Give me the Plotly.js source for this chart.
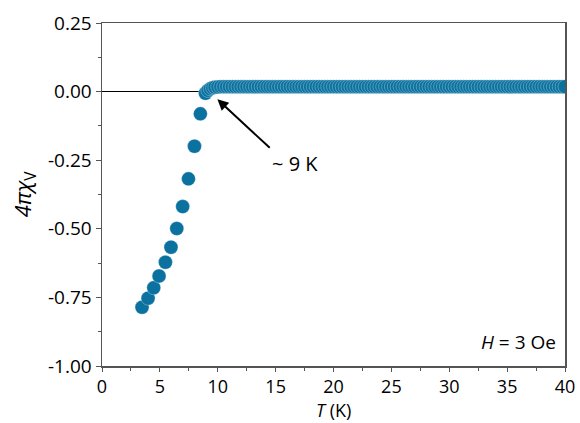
<!DOCTYPE html>
<html>
<head>
<meta charset="utf-8">
<script src="https://cdn.plot.ly/plotly-3.0.1.min.js"></script>
<style>html,body{margin:0;padding:0;background:#fff;}#chart{width:580px;height:423px;}</style>
</head>
<body>
<div id="chart"></div>
<script>
// Temperature (K)
const temperature = [
  3.46, 3.98, 4.47, 4.93, 5.48, 5.96, 6.46, 6.97, 7.47, 7.99, 8.50, 8.94,
  9.15, 9.35, 9.55, 9.75, 10.0, 10.25, 10.5, 10.75, 11.0, 11.25, 11.5, 11.75,
  12.0, 12.25, 12.5, 12.75, 13.0, 13.25, 13.5, 13.75, 14.0, 14.25, 14.5, 14.75,
  15.0, 15.25, 15.5, 15.75, 16.0, 16.25, 16.5, 16.75, 17.0, 17.25, 17.5, 17.75,
  18.0, 18.25, 18.5, 18.75, 19.0, 19.25, 19.5, 19.75, 20.0, 20.25, 20.5, 20.75,
  21.0, 21.25, 21.5, 21.75, 22.0, 22.25, 22.5, 22.75, 23.0, 23.25, 23.5, 23.75,
  24.0, 24.25, 24.5, 24.75, 25.0, 25.25, 25.5, 25.75, 26.0, 26.25, 26.5, 26.75,
  27.0, 27.25, 27.5, 27.75, 28.0, 28.25, 28.5, 28.75, 29.0, 29.25, 29.5, 29.75,
  30.0, 30.25, 30.5, 30.75, 31.0, 31.25, 31.5, 31.75, 32.0, 32.25, 32.5, 32.75,
  33.0, 33.25, 33.5, 33.75, 34.0, 34.25, 34.5, 34.75, 35.0, 35.25, 35.5, 35.75,
  36.0, 36.25, 36.5, 36.75, 37.0, 37.25, 37.5, 37.75, 38.0, 38.25, 38.5, 38.75,
  39.0, 39.25, 39.5, 39.75, 40.0
];
// Volume susceptibility 4*pi*chi_V
const susceptibility = [
  -0.786, -0.753, -0.715, -0.672, -0.622, -0.567, -0.499, -0.419, -0.318, -0.199, -0.081, -0.006,
  0.004, 0.010, 0.014, 0.016, 0.017, 0.018, 0.018, 0.018, 0.018, 0.018, 0.018, 0.018,
  0.018, 0.018, 0.018, 0.018, 0.018, 0.018, 0.018, 0.018, 0.018, 0.018, 0.018, 0.018,
  0.018, 0.018, 0.018, 0.018, 0.018, 0.018, 0.018, 0.018, 0.018, 0.018, 0.018, 0.018,
  0.018, 0.018, 0.018, 0.018, 0.018, 0.018, 0.018, 0.018, 0.018, 0.018, 0.018, 0.018,
  0.018, 0.018, 0.018, 0.018, 0.018, 0.018, 0.018, 0.018, 0.018, 0.018, 0.018, 0.018,
  0.018, 0.018, 0.018, 0.018, 0.018, 0.018, 0.018, 0.018, 0.018, 0.018, 0.018, 0.018,
  0.018, 0.018, 0.018, 0.018, 0.018, 0.018, 0.018, 0.018, 0.018, 0.018, 0.018, 0.018,
  0.018, 0.018, 0.018, 0.018, 0.018, 0.018, 0.018, 0.018, 0.018, 0.018, 0.018, 0.018,
  0.018, 0.018, 0.018, 0.018, 0.018, 0.018, 0.018, 0.018, 0.018, 0.018, 0.018, 0.018,
  0.018, 0.018, 0.018, 0.018, 0.018, 0.018, 0.018, 0.018, 0.018, 0.018, 0.018, 0.018,
  0.018, 0.018, 0.018, 0.018, 0.018
];
const xTickVals = [0, 5, 10, 15, 20, 25, 30, 35, 40];
const xTickText = ['0', '5', '10', '15', '20', '25', '30', '35', '40'];
const yTickVals = [-1.0, -0.75, -0.5, -0.25, 0, 0.25];
const yTickText = ['-1.00', '-0.75', '-0.50', '-0.25', '0.00', '0.25'];

const FONT = 'Open Sans, Noto Sans, sans-serif';
const axisColor = '#555555';
const textColor = '#000000';

const trace = {
  x: temperature,
  y: susceptibility,
  type: 'scatter',
  mode: 'markers',
  marker: {size: 14, color: '#0b72a0', line: {color: '#ffffff', width: 0.3}},
  hoverinfo: 'x+y'
};

const layout = {
  width: 580, height: 423,
  margin: {l: 102, r: 15, t: 23, b: 57},
  paper_bgcolor: '#ffffff', plot_bgcolor: '#ffffff',
  showlegend: false,
  font: {family: FONT, size: 19, color: textColor},
  xaxis: {
    range: [0, 40], showgrid: false, zeroline: false,
    showline: true, linecolor: axisColor, linewidth: 1.5, mirror: true,
    ticks: 'outside', ticklen: 4, tickwidth: 1, tickcolor: axisColor,
    tickvals: xTickVals, ticktext: xTickText,
    minor: {ticks: 'outside', ticklen: 3, dtick: 2.5, tickcolor: axisColor, showgrid: false},
    tickfont: {family: FONT, size: 18, color: textColor}
  },
  yaxis: {
    range: [-1.0, 0.25], showgrid: false,
    zeroline: true, zerolinecolor: '#000000', zerolinewidth: 1,
    showline: true, linecolor: axisColor, linewidth: 1.5, mirror: true,
    ticks: 'outside', ticklen: 5, tickwidth: 1, tickcolor: axisColor,
    tickvals: yTickVals, ticktext: yTickText,
    minor: {ticks: 'outside', ticklen: 3, dtick: 0.125, tick0: 0, tickcolor: axisColor, showgrid: false},
    tickfont: {family: FONT, size: 19, color: textColor},
    title: {text: '<i>4πχ</i><sub>V</sub>', font: {family: FONT, size: 22, color: textColor}, standoff: 10}
  },
  annotations: [
    {
      x: 0.5, y: -0.128, xref: 'paper', yref: 'paper', xanchor: 'center', yanchor: 'middle',
      borderpad: 0,
      text: '<i>T</i> (K)', showarrow: false, font: {family: FONT, size: 18, color: textColor}
    },
    {
      x: 9.97, y: -0.028, xref: 'x', yref: 'y',
      ax: 14.49, ay: -0.205, axref: 'x', ayref: 'y',
      xanchor: 'left', yanchor: 'top',
      text: '~ 9 K', showarrow: true, arrowhead: 2, arrowsize: 1.1, arrowwidth: 2, arrowcolor: '#000000',
      font: {family: FONT, size: 20, color: textColor}
    },
    {
      x: 39.4, y: -0.912, xref: 'x', yref: 'y', xanchor: 'right', yanchor: 'middle',
      text: '<i>H</i> = 3 Oe', showarrow: false, font: {family: FONT, size: 19, color: textColor}
    }
  ]
};

Plotly.newPlot('chart', [trace], layout, {displayModeBar: false, staticPlot: true});
</script>
</body>
</html>
